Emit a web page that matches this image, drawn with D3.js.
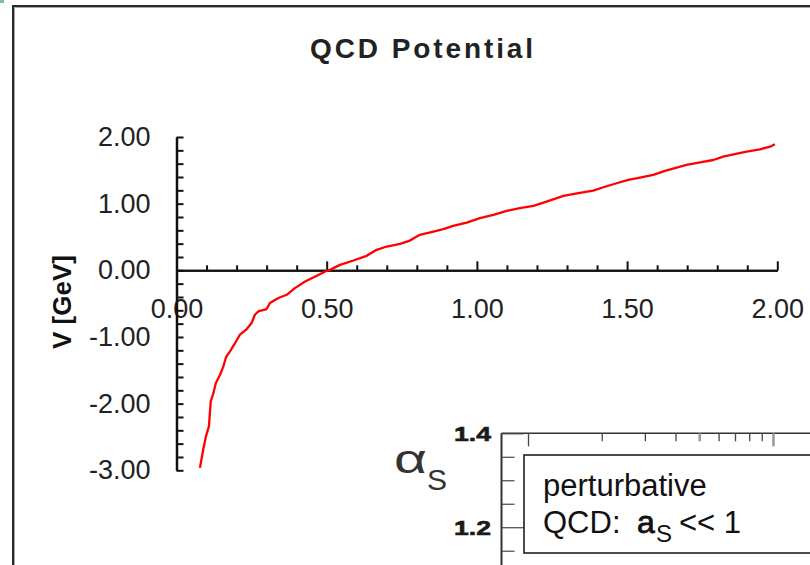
<!DOCTYPE html>
<html>
<head>
<meta charset="utf-8">
<script src="https://cdn.jsdelivr.net/npm/d3@7/dist/d3.min.js"></script>
<style>
  html, body { margin: 0; padding: 0; background: #fff; overflow: hidden; }
  svg { display: block; }
  text { font-family: "Liberation Sans", Arial, Helvetica, sans-serif; }
</style>
</head>
<body>
<svg id="chart" width="810" height="565"></svg>
<script>
// Static quark-antiquark potential: separation r [fm] vs V [GeV]
const rValues = [0.078,0.089,0.098,0.108,0.114,0.123,0.131,0.145,0.156,0.165,0.178,0.195,0.211,0.234,0.250,0.261,0.272,0.300,0.311,0.339,0.367,0.394,0.428,0.467,0.500,0.511,0.544,0.589,0.633,0.666,0.700,0.744,0.777,0.810,0.855,0.888,0.921,0.966,1.010,1.055,1.099,1.143,1.188,1.232,1.288,1.338,1.387,1.421,1.465,1.504,1.543,1.587,1.626,1.665,1.698,1.743,1.787,1.820,1.854,1.898,1.942,1.976,1.992];
const vValues = [-2.963,-2.689,-2.490,-2.340,-1.966,-1.840,-1.690,-1.566,-1.441,-1.300,-1.216,-1.091,-0.966,-0.881,-0.791,-0.667,-0.617,-0.581,-0.491,-0.416,-0.367,-0.267,-0.168,-0.082,-0.007,0.007,0.082,0.147,0.217,0.307,0.357,0.397,0.446,0.532,0.581,0.617,0.667,0.716,0.782,0.831,0.891,0.932,0.966,1.031,1.116,1.157,1.196,1.246,1.306,1.356,1.390,1.431,1.491,1.540,1.581,1.621,1.655,1.705,1.741,1.780,1.816,1.855,1.891];

const xMajorTicks = [0, 0.5, 1.0, 1.5, 2.0];
const xMinorTicks = [0.1,0.2,0.3,0.4,0.6,0.7,0.8,0.9,1.1,1.2,1.3,1.4,1.6,1.7,1.8,1.9];
const yTicks = [-3,-2.8,-2.6,-2.4,-2.2,-2,-1.8,-1.6,-1.4,-1.2,-1,-0.8,-0.6,-0.4,-0.2,0,0.2,0.4,0.6,0.8,1,1.2,1.4,1.6,1.8,2];
const yLabelled = [-3,-2,-1,0,1,2];

// Running coupling panel (partially shown)
const alphaTicks = [1.15, 1.2, 1.25, 1.3, 1.35, 1.4];
const alphaLabelled = [1.2, 1.4];
const qTicks = [1,2,3,4,5,6,7,8,9,10,20];
const qMajor = [1, 10];

const svg = d3.select("#chart");

// outer frame
svg.append("rect").attr("x", 0).attr("y", 0).attr("width", 4).attr("height", 3).attr("fill", "#86b6bf");
svg.append("rect").attr("x", 13).attr("y", 6).attr("width", 900).attr("height", 900)
  .attr("fill", "none").attr("stroke", "#2a2a2a").attr("stroke-width", 2);
svg.append("path").attr("d", "M14.5,900V7.5H900").attr("fill", "none").attr("stroke", "#a8a8a8").attr("stroke-width", 1);

// title
svg.append("text").attr("x", 423).attr("y", 58).attr("text-anchor", "middle")
  .attr("font-size", 28).attr("font-weight", "bold").attr("letter-spacing", 2.9).attr("fill", "#222")
  .text("QCD Potential");

const x = d3.scaleLinear().domain([0, 2]).range([176.5, 777.3]);
const y = d3.scaleLinear().domain([-3, 2]).range([470.3, 137]);

// plain hyphen for negative numbers
const locale = d3.formatLocale({decimal: ".", thousands: ",", grouping: [3], currency: ["", ""], minus: "-"});
const fmt = locale.format(".2f");

// x axis along V = 0, ticks pointing up, labels underneath
const gxMinor = svg.append("g").attr("transform", `translate(0,${y(0)})`)
  .call(d3.axisBottom(x).tickValues(xMinorTicks).tickSize(-5).tickSizeOuter(0).tickFormat(""));
const gxMajor = svg.append("g").attr("transform", `translate(0,${y(0)})`)
  .call(d3.axisBottom(x).tickValues(xMajorTicks).tickSize(-9).tickSizeOuter(0).tickPadding(29).tickFormat(fmt));
[gxMinor, gxMajor].forEach(g => {
  g.selectAll(".domain").attr("stroke", "#111").attr("stroke-width", 2);
  g.selectAll(".tick line").attr("stroke", "#111").attr("stroke-width", 2);
});
gxMajor.selectAll(".tick text").attr("font-size", 27).attr("fill", "#222")
  .attr("font-family", "'Liberation Sans', Arial, sans-serif");

// y axis, ticks pointing right, labels on the left
const gy = svg.append("g").attr("transform", `translate(${x(0)},0)`)
  .call(d3.axisLeft(y).tickValues(yTicks).tickSize(-7).tickSizeOuter(0).tickPadding(26)
    .tickFormat(d => yLabelled.some(v => Math.abs(v - d) < 1e-9) ? fmt(d) : ""));
gy.selectAll(".domain").attr("stroke", "#111").attr("stroke-width", 2.5);
gy.selectAll(".tick line").attr("stroke", "#111").attr("stroke-width", 2);
gy.selectAll(".tick text").attr("font-size", 27).attr("fill", "#222")
  .attr("font-family", "'Liberation Sans', Arial, sans-serif");

// y axis title
svg.append("text").attr("transform", "translate(71,302) rotate(-90)").attr("text-anchor", "middle")
  .attr("font-size", 26).attr("font-weight", "bold").attr("fill", "#111").text("V [GeV]");

// potential curve
const line = d3.line().x((d, i) => x(rValues[i])).y(d => y(d));
svg.append("path").datum(vValues).attr("d", line)
  .attr("fill", "none").attr("stroke", "#ff0000").attr("stroke-width", 2.3)
  .attr("stroke-linejoin", "round");

// ---- alpha_s panel in the lower right ----
const ay = d3.scaleLinear().domain([1.1, 1.4]).range([574.2, 433.3]);
const qx = d3.scaleLog().domain([1, 20]).range([528, 846.7]);

const panel = svg.append("g");
panel.append("rect").attr("x", 501.5).attr("y", 433.3).attr("width", 400).attr("height", 200).attr("fill", "#fff");

const gq = panel.append("g").attr("transform", `translate(0,${ay(1.4)})`)
  .call(d3.axisTop(qx).tickValues(qTicks).tickSizeOuter(0).tickFormat(""));
gq.select(".domain").attr("d", `M501.5,0H900`).attr("stroke", "#333").attr("stroke-width", 1.5);
gq.selectAll(".tick line")
  .attr("y2", d => qMajor.includes(d) ? 13 : 8)
  .attr("stroke", d => (d === 5 || d === 10) ? "#9a9a9a" : "#444")
  .attr("stroke-width", d => (d === 5 || d === 10) ? 2.5 : 1.3);

const ga = panel.append("g").attr("transform", "translate(501.5,0)")
  .call(d3.axisLeft(ay).tickValues(alphaTicks).tickSizeOuter(0).tickFormat(""));
ga.select(".domain").attr("d", "M0,433.3V600").attr("stroke", "#333").attr("stroke-width", 2);
ga.selectAll(".tick line")
  .attr("x2", d => alphaLabelled.some(v => Math.abs(v - d) < 1e-9) ? 22 : 13)
  .attr("stroke", "#444").attr("stroke-width", 1.2);

alphaLabelled.forEach(v => {
  panel.append("text").attr("x", 454).attr("y", ay(v) + 7.5)
    .attr("font-size", 21).attr("font-weight", "bold").attr("fill", "#1a1a1a")
    .attr("stroke", "#1a1a1a").attr("stroke-width", 0.6)
    .attr("textLength", 37).attr("lengthAdjust", "spacingAndGlyphs")
    .text(v.toFixed(1));
});

// alpha_s axis symbol
const sym = panel.append("text").attr("fill", "#333")
  .attr("font-family", "'Liberation Serif', 'Times New Roman', serif");
sym.append("tspan").attr("x", 394).attr("y", 473).attr("font-size", 40)
  .attr("textLength", 33).attr("lengthAdjust", "spacingAndGlyphs").text("α");
sym.append("tspan").attr("x", 427).attr("y", 490).attr("font-size", 30).text("S");

// annotation box
panel.append("rect").attr("x", 524).attr("y", 455).attr("width", 400).attr("height", 98)
  .attr("fill", "#fff").attr("stroke", "#111").attr("stroke-width", 1.5);
panel.append("text").attr("x", 543).attr("y", 496).attr("font-size", 31).attr("fill", "#111")
  .text("perturbative");
const l2 = panel.append("text").attr("y", 533).attr("font-size", 31).attr("fill", "#111");
l2.append("tspan").attr("x", 543).text("QCD:");
l2.append("tspan").attr("x", 637).attr("font-size", 32).attr("stroke", "#111").attr("stroke-width", 0.8).text("a");
l2.append("tspan").attr("x", 656).attr("y", 542).attr("font-size", 24).attr("stroke", "none").text("S");
l2.append("tspan").attr("x", 679).attr("y", 533).text("<< 1");
</script>
</body>
</html>
